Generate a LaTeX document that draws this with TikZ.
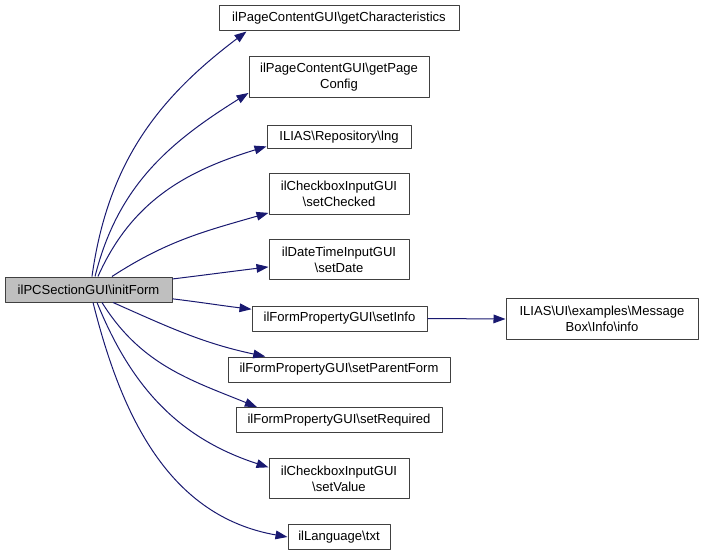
\documentclass[tikz,border=0pt]{standalone}
\usepackage{fontspec}
\setmainfont{Liberation Sans}
\usetikzlibrary{arrows.meta}
\newcommand{\bsl}{\textbackslash}
\definecolor{edgeblue}{RGB}{25,25,112}
\begin{document}
\begin{tikzpicture}[x=0.75pt, y=-0.75pt, line join=round, font=\fontsize{9.8}{12}\selectfont]
	\tikzset{fn/.style={draw=black!75, line width=0.75pt, fill=white, align=center, inner sep=0pt, minimum height=18.75pt},
		fntwo/.style={fn, minimum height=30.5pt},
		call/.style={draw=edgeblue, line width=0.75pt, -{Triangle[length=9pt,width=6.5pt,fill=edgeblue]}}}
	\useasboundingbox (0,0) rectangle (703,556);
	% caller
	\node[fn, fill=black!25, minimum width=125.25pt] (init) at (88.5,289.5) {ilPCSectionGUI\bsl initForm};
	% callees
	\node[fn, minimum width=180pt] (chr) at (339,18.5) {ilPageContentGUI\bsl getCharacteristics};
	\node[fntwo, minimum width=135pt] (pcfg) at (339,77) {ilPageContentGUI\bsl getPage\\Config};
	\node[fn, minimum width=108pt, minimum height=17.25pt] (lng) at (339,137.5) {ILIAS\bsl Repository\bsl lng};
	\node[fntwo, minimum width=105pt] (chk) at (339,194) {ilCheckboxInputGUI\\\bsl setChecked};
	\node[fntwo, minimum width=105pt] (date) at (339,259.5) {ilDateTimeInputGUI\\\bsl setDate};
	\node[fn, minimum width=131.25pt] (info) at (339.5,318.5) {ilFormPropertyGUI\bsl setInfo};
	\node[fn, minimum width=166.5pt] (parent) at (339,369.5) {ilFormPropertyGUI\bsl setParentForm};
	\node[fn, minimum width=154.5pt] (req) at (339,420) {ilFormPropertyGUI\bsl setRequired};
	\node[fntwo, minimum width=105pt] (val) at (339,478.5) {ilCheckboxInputGUI\\\bsl setValue};
	\node[fn, minimum width=76.5pt] (txt) at (339,537) {ilLanguage\bsl txt};
	\node[fntwo, minimum width=144pt] (msg) at (602,319) {ILIAS\bsl UI\bsl examples\bsl Message\\Box\bsl Info\bsl info};
	% calls
	\draw[call] ([xshift=2.6pt]init.north) to[out=82,in=217] (chr.188);
	\draw[call] ([xshift=4.9pt]init.north) to[out=76,in=212] (pcfg.190);
	\draw[call] ([xshift=7.1pt]init.north) to[out=66,in=197] (lng.187);
	\draw[call] ([xshift=17.6pt]init.north) to[out=33,in=196] (chk.195);
	\draw[call] ([yshift=7.9pt]init.east) to[out=7,in=187] (date.186);
	\draw[call] ([yshift=-7pt]init.east) to[out=-7,in=173] (info.174);
	\draw[call] ([xshift=18.4pt]init.south) to[out=-24,in=168] (parent.170);
	\draw[call] ([xshift=10.1pt]init.south) to[out=-58,in=158] (req.171);
	\draw[call] ([xshift=6.4pt]init.south) to[out=-68,in=162] (val.171);
	\draw[call] ([xshift=3.4pt]init.south) to[out=-76,in=170] (txt.west);
	\draw[call] (info.east) -- (msg.west);
\end{tikzpicture}
\end{document}
